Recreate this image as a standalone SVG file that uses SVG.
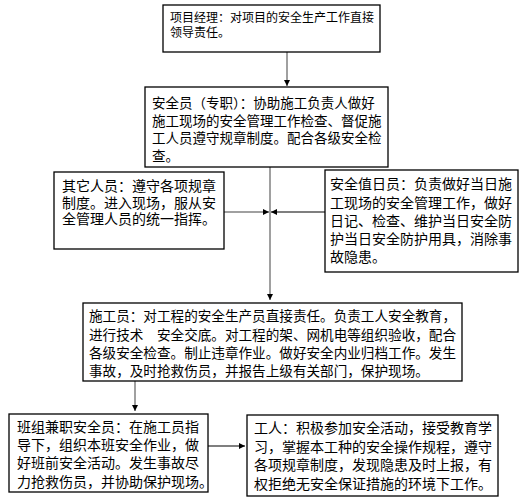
<svg xmlns="http://www.w3.org/2000/svg" width="525" height="504" viewBox="0 0 525 504">
<style>
.box{fill:#fff;stroke:#000;stroke-width:1.3}
text{font-family:"Liberation Sans","Noto Sans CJK SC",sans-serif;fill:#000}
.c{fill:none;stroke:#808080;stroke-width:1.5}
.k{fill:none;stroke:#000;stroke-width:1.2}
</style>
<defs>
<marker id="ah" viewBox="0 0 10 10" refX="10" refY="5" markerWidth="6" markerHeight="6" markerUnits="userSpaceOnUse" orient="auto">
<path d="M0,0 L10,5 L0,10 z" fill="#000"/>
</marker>
</defs>
<rect width="525" height="504" fill="#fff"/>
<g id="connectors">
<line class="c" x1="287" y1="52" x2="287" y2="86" marker-end="url(#ah)"/>
<line class="c" x1="270" y1="167" x2="270" y2="300" marker-end="url(#ah)"/>
<line class="c" x1="224" y1="212" x2="269" y2="212" marker-end="url(#ah)"/>
<line class="k" x1="325" y1="212" x2="271" y2="212" marker-end="url(#ah)"/>
<line class="c" x1="135" y1="381" x2="135" y2="411" marker-end="url(#ah)"/>
<line class="k" x1="208" y1="446" x2="245" y2="446" marker-end="url(#ah)"/>
</g>
<g id="manager">
<rect class="box" x="163" y="5" width="217" height="47"/>
<text font-size="12"><tspan x="170" y="22">项目经理：对项目的安全生产工作直接</tspan><tspan x="170" y="37">领导责任。</tspan></text>
</g>
<g id="safety-officer">
<rect class="box" x="145" y="87" width="243" height="80"/>
<text font-size="13.5"><tspan x="152" y="107.5">安全员（专职）：协助施工负责人做好</tspan><tspan x="152" y="125.5">施工现场的安全管理工作检查、督促施</tspan><tspan x="152" y="143">工人员遵守规章制度。配合各级安全检</tspan><tspan x="152" y="161">查。</tspan></text>
</g>
<g id="other-staff">
<rect class="box" x="54" y="172" width="170" height="77"/>
<text font-size="14"><tspan x="62" y="191">其它人员：遵守各项规章</tspan><tspan x="62" y="207.5">制度。进入现场，服从安</tspan><tspan x="62" y="224">全管理人员的统一指挥。</tspan></text>
</g>
<g id="duty-officer">
<rect class="box" x="325" y="170" width="193" height="102"/>
<text font-size="14"><tspan x="330" y="189">安全值日员：负责做好当日施</tspan><tspan x="330" y="208">工现场的安全管理工作，做好</tspan><tspan x="330" y="226">日记、检查、维护当日安全防</tspan><tspan x="330" y="244">护当日安全防护用具，消除事</tspan><tspan x="330" y="262">故隐患。</tspan></text>
</g>
<g id="constructor">
<rect class="box" x="83" y="303" width="379" height="78"/>
<text font-size="13.6"><tspan x="89" y="321">施工员：对工程的安全生产员直接责任。负责工人安全教育，</tspan><tspan x="89" y="339.5">进行技术　安全交底。对工程的架、网机电等组织验收，配合</tspan><tspan x="89" y="358">各级安全检查。制止违章作业。做好安全内业归档工作。发生</tspan><tspan x="89" y="376">事故，及时抢救伤员，并报告上级有关部门，保护现场。</tspan></text>
</g>
<g id="team-officer">
<rect class="box" x="9" y="414" width="199" height="78"/>
<text font-size="14"><tspan x="17" y="432">班组兼职安全员：在施工员指</tspan><tspan x="17" y="449.5">导下，组织本班安全作业，做</tspan><tspan x="17" y="468">好班前安全活动。发生事故尽</tspan><tspan x="17" y="487">力抢救伤员，并协助保护现场。</tspan></text>
</g>
<g id="worker">
<rect class="box" x="247" y="415" width="251" height="81"/>
<text font-size="14"><tspan x="254" y="433">工人：积极参加安全活动，接受教育学</tspan><tspan x="254" y="451.5">习，掌握本工种的安全操作规程，遵守</tspan><tspan x="254" y="470">各项规章制度，发现隐患及时上报，有</tspan><tspan x="254" y="489">权拒绝无安全保证措施的环境下工作。</tspan></text>
</g>
</svg>
